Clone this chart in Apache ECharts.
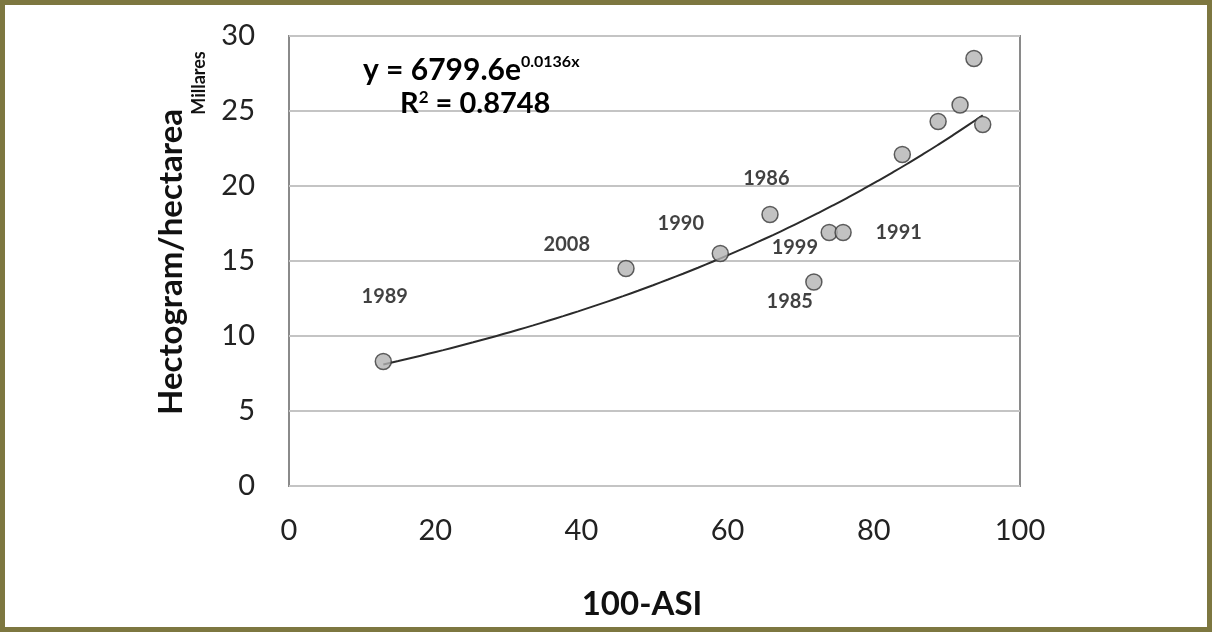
<!DOCTYPE html>
<html>
<head>
<meta charset="utf-8">
<script src="https://cdn.jsdelivr.net/npm/echarts@6/dist/echarts.min.js"></script>
<style>
html, body { margin: 0; padding: 0; background: #fff; }
#frame { position: absolute; left: 0; top: 0; width: 1212px; height: 632px; box-sizing: border-box; border: 5px solid #7d7740; }
#echart { position: absolute; left: 0; top: 0; width: 1212px; height: 632px; }
</style>
</head>
<body>
<div id="echart"></div>
<div id="frame"></div>
<script>
// data points (100-ASI, thousands of hg/ha)
var asi = [12.9, 46.1, 59.0, 65.8, 71.8, 73.9, 75.8, 83.9, 88.8, 91.8, 93.7, 94.9];
var yieldK = [8.3, 14.5, 15.5, 18.1, 13.6, 16.9, 16.9, 22.1, 24.3, 25.4, 28.5, 24.1];
// year labels and where they sit on the chart
var years = ['1989', '2008', '1990', '1986', '1999', '1985', '1991'];
var yearX = [13.1, 38.0, 53.6, 65.3, 69.2, 68.5, 83.4];
var yearY = [12.6, 16.1, 17.5, 20.5, 15.9, 12.3, 16.9];
// exponential trend y = a e^(b x), a in units (axis is in thousands)
var trendA = 6799.6;
var trendB = 0.0136;

var font = 'Lato, "Open Sans", sans-serif';
var myChart = echarts.init(document.getElementById('echart'));

var points = asi.map(function (x, i) { return [x, yieldK[i]]; });
var labels = years.map(function (t, i) { return [yearX[i], yearY[i], t]; });
var trend = [];
var xs = asi.slice().sort(function (a, b) { return a - b; });
for (var i = 0; i <= 40; i++) {
	var x = xs[0] + (xs[xs.length - 1] - xs[0]) * i / 40;
	trend.push([x, trendA * Math.exp(trendB * x) / 1000]);
}

option = {
	animation: false,
	grid: {
		left: 289,
		right: 192,
		top: 36,
		bottom: 146,
		show: true,
		borderColor: '#8a8a8a',
		borderWidth: 2
	},
	xAxis: {
		type: 'value',
		min: 0,
		max: 100,
		interval: 20,
		axisLine: { show: false },
		axisTick: { show: false },
		splitLine: { show: false },
		axisLabel: { fontFamily: font, fontSize: 29, color: '#222', margin: 30 }
	},
	yAxis: {
		type: 'value',
		min: 0,
		max: 30,
		interval: 5,
		axisLine: { show: false },
		axisTick: { show: false },
		splitLine: { lineStyle: { color: '#c4c4c4', width: 2 } },
		axisLabel: { fontFamily: font, fontSize: 29, color: '#222', margin: 34 }
	},
	graphic: [{
		type: 'text',
		x: 171,
		y: 262,
		rotation: Math.PI / 2,
		style: {
			text: 'Hectogram/hectarea',
			fontFamily: font,
			fontSize: 33,
			fontWeight: 'bold',
			fill: '#111',
			align: 'center',
			verticalAlign: 'middle'
		}
	}, {
		type: 'text',
		x: 199,
		y: 83,
		rotation: Math.PI / 2,
		style: {
			text: 'Millares',
			fontFamily: font,
			fontSize: 18,
			fontWeight: 'bold',
			fill: '#111',
			align: 'center',
			verticalAlign: 'middle'
		}
	}, {
		type: 'text',
		x: 642,
		y: 604,
		style: {
			text: '100-ASI',
			fontFamily: font,
			fontSize: 33,
			fontWeight: 'bold',
			fill: '#111',
			align: 'center',
			verticalAlign: 'middle'
		}
	}, {
		type: 'text',
		x: 363,
		y: 70,
		z: 50,
		style: {
			text: '{b|y = 6799.6e}{s|0.0136x}',
			verticalAlign: 'middle',
			rich: {
				b: { fontFamily: font, fontSize: 30, fontWeight: 'bold', color: '#222' },
				s: { fontFamily: font, fontSize: 16, fontWeight: 'bold', color: '#222', padding: [0, 0, 16, 0] }
			}
		}
	}, {
		type: 'text',
		x: 400,
		y: 104,
		z: 50,
		style: {
			text: '{b|R}{s|2}{b| = 0.8748}',
			verticalAlign: 'middle',
			rich: {
				b: { fontFamily: font, fontSize: 29, fontWeight: 'bold', color: '#222' },
				s: { fontFamily: font, fontSize: 17, fontWeight: 'bold', color: '#222', padding: [0, 0, 13, 0] }
			}
		}
	}],
	series: [{
		type: 'line',
		data: trend,
		smooth: true,
		symbol: 'none',
		lineStyle: { color: '#2b2b2b', width: 2 },
		z: 2
	}, {
		type: 'scatter',
		data: points,
		symbol: 'circle',
		symbolSize: 16,
		itemStyle: { color: '#b3b3b3', borderColor: '#3a3a3a', borderWidth: 1.5 },
		z: 3
	}, {
		type: 'scatter',
		data: labels,
		symbolSize: 0,
		label: {
			show: true,
			position: 'inside',
			formatter: function (p) { return p.data[2]; },
			fontFamily: font,
			fontSize: 20,
			fontWeight: 'bold',
			color: '#111'
		},
		z: 4
	}]
};
myChart.setOption(option);
</script>
</body>
</html>
